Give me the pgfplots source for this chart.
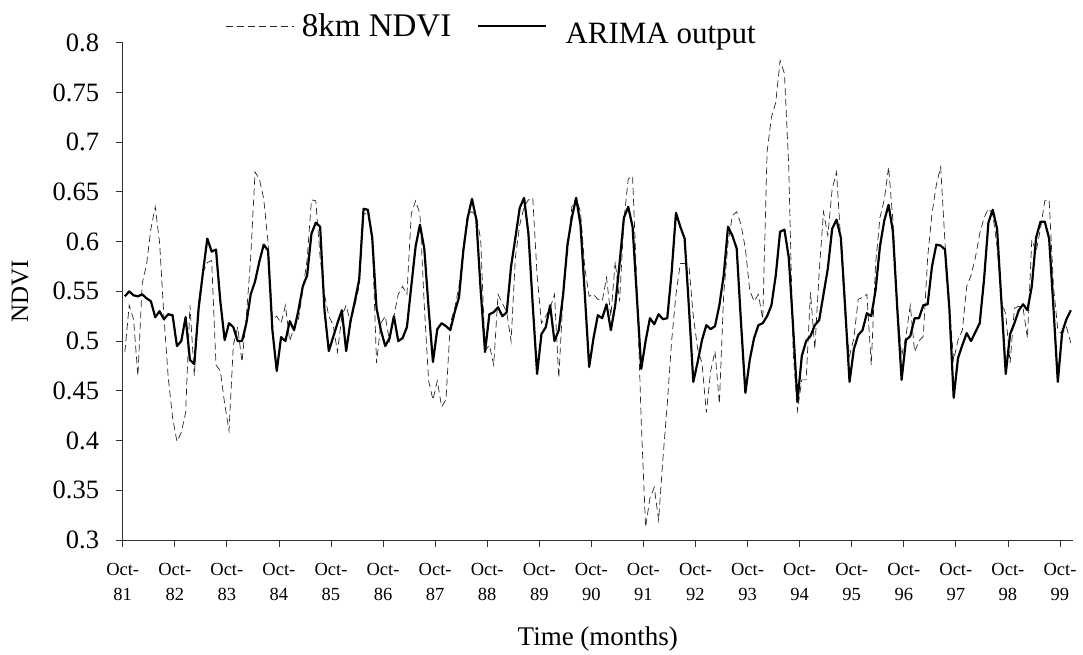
\documentclass[border=0pt]{standalone}
\usepackage{fontspec}
\setmainfont{Liberation Serif}
\usepackage{pgfplots}
\pgfplotsset{compat=1.18}
\usepackage{pgfplotstable}
\pgfplotstableread{
i ndvi arima
0 0.489 0.545
1 0.536 0.550
2 0.522 0.546
3 0.465 0.545
4 0.558 0.547
5 0.577 0.543
6 0.613 0.540
7 0.635 0.524
8 0.599 0.530
9 0.525 0.522
10 0.463 0.527
11 0.423 0.526
12 0.399 0.495
13 0.408 0.500
14 0.428 0.524
15 0.536 0.481
16 0.465 0.477
17 0.540 0.533
18 0.569 0.569
19 0.579 0.603
20 0.581 0.590
21 0.476 0.592
22 0.470 0.540
23 0.437 0.501
24 0.410 0.518
25 0.496 0.514
26 0.514 0.500
27 0.479 0.500
28 0.525 0.518
29 0.584 0.547
30 0.670 0.560
31 0.663 0.580
32 0.643 0.597
33 0.599 0.591
34 0.522 0.511
35 0.525 0.470
36 0.518 0.504
37 0.536 0.500
38 0.500 0.520
39 0.514 0.511
40 0.522 0.531
41 0.551 0.555
42 0.582 0.566
43 0.642 0.608
44 0.641 0.619
45 0.584 0.615
46 0.547 0.531
47 0.525 0.490
48 0.516 0.504
49 0.489 0.518
50 0.525 0.531
51 0.536 0.490
52 0.518 0.520
53 0.536 0.540
54 0.555 0.562
55 0.628 0.633
56 0.628 0.632
57 0.604 0.604
58 0.478 0.533
59 0.518 0.511
60 0.525 0.495
61 0.500 0.503
62 0.525 0.525
63 0.547 0.500
64 0.555 0.503
65 0.547 0.514
66 0.628 0.555
67 0.641 0.595
68 0.628 0.617
69 0.536 0.593
70 0.460 0.533
71 0.441 0.479
72 0.460 0.512
73 0.434 0.518
74 0.441 0.515
75 0.518 0.511
76 0.533 0.529
77 0.555 0.544
78 0.595 0.591
79 0.628 0.624
80 0.630 0.643
81 0.626 0.622
82 0.602 0.551
83 0.490 0.489
84 0.496 0.527
85 0.476 0.529
86 0.547 0.534
87 0.538 0.525
88 0.529 0.529
89 0.500 0.575
90 0.584 0.604
91 0.617 0.634
92 0.635 0.644
93 0.642 0.608
94 0.644 0.536
95 0.566 0.467
96 0.518 0.507
97 0.525 0.514
98 0.533 0.536
99 0.547 0.500
100 0.463 0.511
101 0.547 0.547
102 0.588 0.597
103 0.635 0.624
104 0.644 0.644
105 0.630 0.617
106 0.573 0.547
107 0.545 0.474
108 0.547 0.503
109 0.542 0.526
110 0.540 0.523
111 0.564 0.537
112 0.525 0.511
113 0.580 0.536
114 0.540 0.578
115 0.621 0.624
116 0.663 0.635
117 0.666 0.615
118 0.555 0.544
119 0.419 0.472
120 0.313 0.500
121 0.342 0.523
122 0.353 0.517
123 0.320 0.527
124 0.382 0.522
125 0.437 0.523
126 0.500 0.569
127 0.547 0.629
128 0.578 0.615
129 0.578 0.603
130 0.575 0.533
131 0.525 0.459
132 0.492 0.479
133 0.478 0.501
134 0.428 0.516
135 0.470 0.512
136 0.490 0.515
137 0.437 0.536
138 0.547 0.566
139 0.599 0.615
140 0.626 0.606
141 0.630 0.593
142 0.617 0.518
143 0.593 0.448
144 0.551 0.481
145 0.540 0.503
146 0.547 0.516
147 0.522 0.518
148 0.690 0.525
149 0.725 0.536
150 0.740 0.566
151 0.782 0.610
152 0.769 0.612
153 0.675 0.584
154 0.489 0.514
155 0.430 0.439
156 0.461 0.485
157 0.461 0.500
158 0.549 0.505
159 0.492 0.516
160 0.569 0.521
161 0.630 0.547
162 0.606 0.573
163 0.653 0.613
164 0.670 0.622
165 0.599 0.604
166 0.525 0.533
167 0.485 0.459
168 0.503 0.492
169 0.542 0.506
170 0.544 0.511
171 0.547 0.528
172 0.476 0.525
173 0.577 0.551
174 0.624 0.595
175 0.642 0.621
176 0.675 0.637
177 0.621 0.610
178 0.533 0.533
179 0.485 0.461
180 0.505 0.501
181 0.536 0.505
182 0.489 0.523
183 0.500 0.523
184 0.505 0.536
185 0.584 0.537
186 0.628 0.575
187 0.657 0.597
188 0.675 0.596
189 0.599 0.592
190 0.533 0.533
191 0.481 0.443
192 0.501 0.483
193 0.511 0.496
194 0.555 0.508
195 0.566 0.500
196 0.584 0.509
197 0.608 0.518
198 0.624 0.562
199 0.633 0.619
200 0.628 0.632
201 0.595 0.613
202 0.540 0.540
203 0.527 0.467
204 0.478 0.507
205 0.533 0.518
206 0.535 0.531
207 0.533 0.537
208 0.503 0.531
209 0.602 0.555
210 0.590 0.604
211 0.613 0.620
212 0.641 0.620
213 0.642 0.603
214 0.555 0.533
215 0.511 0.459
216 0.507 0.509
217 0.514 0.522
218 0.498 0.531
}\datatable

\begin{document}
\begin{tikzpicture}
\path[use as bounding box] (-122.7pt,-114pt) rectangle (960.3pt,540pt);
\begin{axis}[
  at={(0pt,0pt)}, anchor=south west,
  scale only axis, width=950.3pt, height=497.3pt,
  xmin=0, xmax=219, ymin=0.3, ymax=0.8,
  axis lines=left,
  axis line style={-, line width=0.8pt, black!80},
  tick align=outside, major tick length=7pt,
  tick style={line width=0.8pt, black!80},
  xtick={0,12,24,36,48,60,72,84,96,108,120,132,144,156,168,180,192,204,216},
  xticklabels={{Oct-\\81},{Oct-\\82},{Oct-\\83},{Oct-\\84},{Oct-\\85},{Oct-\\86},{Oct-\\87},{Oct-\\88},{Oct-\\89},{Oct-\\90},{Oct-\\91},{Oct-\\92},{Oct-\\93},{Oct-\\94},{Oct-\\95},{Oct-\\96},{Oct-\\97},{Oct-\\98},{Oct-\\99}},
  xticklabel style={align=center, font=\fontsize{18.5}{25}\selectfont, yshift=-13pt},
  ytick={0.3,0.35,0.4,0.45,0.5,0.55,0.6,0.65,0.7,0.75,0.8},
  yticklabels={0.3,0.35,0.4,0.45,0.5,0.55,0.6,0.65,0.7,0.75,0.8},
  yticklabel style={font=\fontsize{26.5}{26.5}\selectfont, inner sep=0pt, xshift=-16.4pt},
  xlabel={Time (months)},
  xlabel style={font=\fontsize{27}{27}\selectfont, at={(axis description cs:0.5,-0.2)}, anchor=center},
  ylabel={NDVI},
  ylabel style={font=\fontsize{25}{25}\selectfont, at={(axis description cs:-0.108,0.5)}, anchor=center},
  legend columns=2,
  legend style={at={(axis description cs:0.1077,1.062)}, anchor=north west, draw=none, fill=none,
    font=\fontsize{33}{33}\selectfont, inner sep=0pt,
    nodes={inner sep=2pt},
    /tikz/every odd column/.append style={column sep=6pt},
    /tikz/every even column/.append style={column sep=24pt}},
  legend image code/.code={\draw[#1] (0pt,0pt) -- (68pt,0pt);},
  clip=false,
]
\addplot[black!85, line width=0.7pt, dash pattern=on 7pt off 4pt] table[x expr=\thisrow{i}+0.5, y=ndvi] {\datatable};
\addlegendentry{8km NDVI}
\addplot[black, line width=2.2pt, line join=round] table[x expr=\thisrow{i}+0.5, y=arima] {\datatable};
\addlegendentry{\hspace{10pt}\raisebox{-15pt}{\fontsize{31}{31}\selectfont ARIMA output}}
\end{axis}
\end{tikzpicture}
\end{document}
